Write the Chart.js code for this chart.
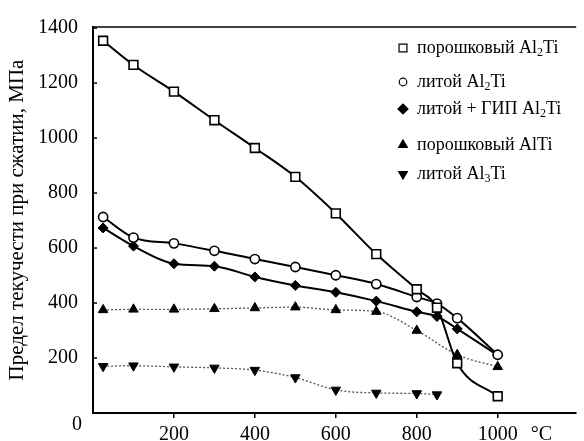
<!DOCTYPE html>
<html>
<head>
<meta charset="utf-8">
<script src="https://cdn.jsdelivr.net/npm/chart.js@4.4.0/dist/chart.umd.min.js"></script>
<style>
  html, body { margin: 0; padding: 0; background: #fff; }
  #wrap { width: 584px; height: 441px; }
</style>
</head>
<body>
<div id="wrap"><canvas id="chart"></canvas></div>
<script>
// temperatures, °C
var tempsAl2Ti = [25, 100, 200, 300, 400, 500, 600, 700, 800, 850, 900, 1000];
var tempsAlTi = [25, 100, 200, 300, 400, 500, 600, 700, 800, 900, 1000];
var tempsAl3Ti = [25, 100, 200, 300, 400, 500, 600, 700, 800, 850];

// yield stress, MPa
var powderAl2Ti = [1354, 1266, 1169, 1065, 964, 859, 726, 578, 450, 383, 181, 61];
var castAl2Ti = [713, 638, 617, 590, 560, 531, 501, 469, 422, 398, 345, 212];
var castHipAl2Ti = [673, 607, 543, 534, 495, 464, 439, 407, 368, 351, 306, 210];
var powderAlTi = [375, 377, 377, 379, 382, 385, 375, 369, 300, 212, 168];
var castAl3Ti = [170, 172, 168, 164, 156, 129, 84, 73, 71, 67];

var xTicks = [200, 400, 600, 800, 1000];
var yTicks = [0, 200, 400, 600, 800, 1000, 1200, 1400];

var legendLabels = ['порошковый Al₂Ti', 'литой Al₂Ti', 'литой + ГИП Al₂Ti', 'порошковый AlTi', 'литой Al₃Ti'];
var yTitle = 'Предел текучести при сжатии, МПа';
var xUnit = '°C';

var serif = '"Liberation Serif", "DejaVu Serif", serif';

function pairs(xs, ys) {
    return xs.map(function (x, i) { return { x: x, y: ys[i] }; });
}

// рамка сверху, внутренние засечки оси Y, легенда и подписи «0» и °C
var decorations = {
    id: 'decorations',
    afterDraw: function (chart) {
        var ctx = chart.ctx;
        var area = chart.chartArea;
        var yScale = chart.scales.y;
        var xScale = chart.scales.x;
        ctx.save();
        ctx.strokeStyle = '#000';
        ctx.lineWidth = 1.5;
        ctx.beginPath();
        ctx.moveTo(area.left, area.top);
        ctx.lineTo(area.right, area.top);
        ctx.stroke();

        yTicks.forEach(function (v) {
            var py = yScale.getPixelForValue(v);
            ctx.beginPath();
            ctx.moveTo(area.left, py);
            ctx.lineTo(area.left + 4, py);
            ctx.stroke();
        });

        ctx.fillStyle = '#000';
        ctx.font = '20px ' + serif;
        ctx.textAlign = 'center';
        ctx.textBaseline = 'middle';
        ctx.fillText(xUnit, xScale.getPixelForValue(1108), 435);
        ctx.textAlign = 'right';
        ctx.fillText(String(yTicks[0]), area.left - 11, yScale.getPixelForValue(0) + 12);

        var rows = [48, 82, 109, 145, 174];
        var markX = 403;
        var textX = 417;
        chart.data.datasets.forEach(function (ds, i) {
            var y = rows[i];
            ctx.lineWidth = 1.2;
            ctx.strokeStyle = '#000';
            ctx.fillStyle = ds.pointBackgroundColor;
            Chart.helpers.drawPoint(ctx, {
                pointStyle: ds.pointStyle,
                radius: ds.legendRadius,
                rotation: ds.rotation || 0,
                borderWidth: 1.2
            }, markX, y);
            if (ds.pointBackgroundColor !== '#fff') {
                ctx.fill();
            }
            drawLabel(ctx, legendLabels[i], textX, y);
        });
        ctx.restore();
    }
};

function drawLabel(ctx, text, x, y) {
    var subs = { '₂': '2', '₃': '3' };
    ctx.fillStyle = '#000';
    ctx.textAlign = 'left';
    ctx.textBaseline = 'middle';
    var buf = '';
    var cx = x;
    function flush() {
        if (!buf) return;
        ctx.font = '18px ' + serif;
        ctx.fillText(buf, cx, y);
        cx += ctx.measureText(buf).width;
        buf = '';
    }
    for (var i = 0; i < text.length; i++) {
        var ch = text[i];
        if (subs[ch]) {
            flush();
            ctx.font = '12px ' + serif;
            ctx.fillText(subs[ch], cx, y + 5);
            cx += ctx.measureText(subs[ch]).width;
        } else {
            buf += ch;
        }
    }
    flush();
}

var ctxChart = document.getElementById('chart').getContext('2d');
var chart = new Chart(ctxChart, {
    type: 'line',
    data: {
        datasets: [{
            label: legendLabels[0],
            data: pairs(tempsAl2Ti, powderAl2Ti),
            borderColor: '#000',
            borderWidth: 2,
            pointStyle: 'rect',
            pointRadius: 6.2,
            legendRadius: 5.6,
            pointBorderWidth: 1.6,
            pointBorderColor: '#000',
            pointBackgroundColor: '#fff',
            cubicInterpolationMode: 'monotone'
        }, {
            label: legendLabels[1],
            data: pairs(tempsAl2Ti, castAl2Ti),
            borderColor: '#000',
            borderWidth: 2,
            pointStyle: 'circle',
            pointRadius: 4.6,
            legendRadius: 3.8,
            pointBorderWidth: 1.6,
            pointBorderColor: '#000',
            pointBackgroundColor: '#fff',
            cubicInterpolationMode: 'monotone'
        }, {
            label: legendLabels[2],
            data: pairs(tempsAl2Ti, castHipAl2Ti),
            borderColor: '#000',
            borderWidth: 2,
            pointStyle: 'rectRot',
            pointRadius: 5,
            legendRadius: 5,
            pointBorderWidth: 1,
            pointBorderColor: '#000',
            pointBackgroundColor: '#000',
            cubicInterpolationMode: 'monotone'
        }, {
            label: legendLabels[3],
            data: pairs(tempsAlTi, powderAlTi),
            borderColor: '#555',
            borderWidth: 1.3,
            borderDash: [2, 2],
            pointStyle: 'triangle',
            pointRadius: 5.5,
            legendRadius: 5,
            pointBorderWidth: 1,
            pointBorderColor: '#000',
            pointBackgroundColor: '#000',
            cubicInterpolationMode: 'monotone'
        }, {
            label: legendLabels[4],
            data: pairs(tempsAl3Ti, castAl3Ti),
            borderColor: '#555',
            borderWidth: 1.3,
            borderDash: [2, 2],
            pointStyle: 'triangle',
            rotation: 180,
            pointRotation: 180,
            pointRadius: 5.5,
            legendRadius: 5,
            pointBorderWidth: 1,
            pointBorderColor: '#000',
            pointBackgroundColor: '#000',
            cubicInterpolationMode: 'monotone'
        }]
    },
    options: {
        responsive: true,
        maintainAspectRatio: false,
        animation: false,
        layout: { padding: { top: 17, right: 0, left: 0, bottom: 0 } },
        plugins: {
            legend: { display: false },
            tooltip: { enabled: false }
        },
        scales: {
            x: {
                type: 'linear',
                min: 0,
                max: 1194,
                afterBuildTicks: function (scale) {
                    scale.ticks = xTicks.map(function (v) { return { value: v }; });
                },
                afterFit: function (scale) { scale.height = 28; },
                grid: {
                    drawOnChartArea: false,
                    drawTicks: true,
                    tickLength: 5,
                    color: '#000',
                    lineWidth: 1.5
                },
                border: { color: '#000', width: 2 },
                ticks: {
                    color: '#000',
                    font: { family: serif, size: 20 },
                    padding: 5,
                    maxRotation: 0,
                    autoSkip: false,
                    callback: function (value) { return String(value); }
                }
            },
            y: {
                min: 0,
                max: 1404,
                afterBuildTicks: function (scale) {
                    scale.ticks = yTicks.map(function (v) { return { value: v }; });
                },
                afterFit: function (scale) { scale.width = 93; },
                grid: { display: false, drawTicks: false },
                border: { display: true, color: '#000', width: 2 },
                ticks: {
                    color: '#000',
                    font: { family: serif, size: 20 },
                    padding: 15,
                    autoSkip: false,
                    callback: function (value) { return value === 0 ? '' : String(value); }
                },
                title: {
                    display: true,
                    text: yTitle,
                    color: '#000',
                    font: { family: serif, size: 21 },
                    padding: { top: 5, bottom: 0 }
                }
            }
        }
    },
    plugins: [decorations]
});
</script>
</body>
</html>
